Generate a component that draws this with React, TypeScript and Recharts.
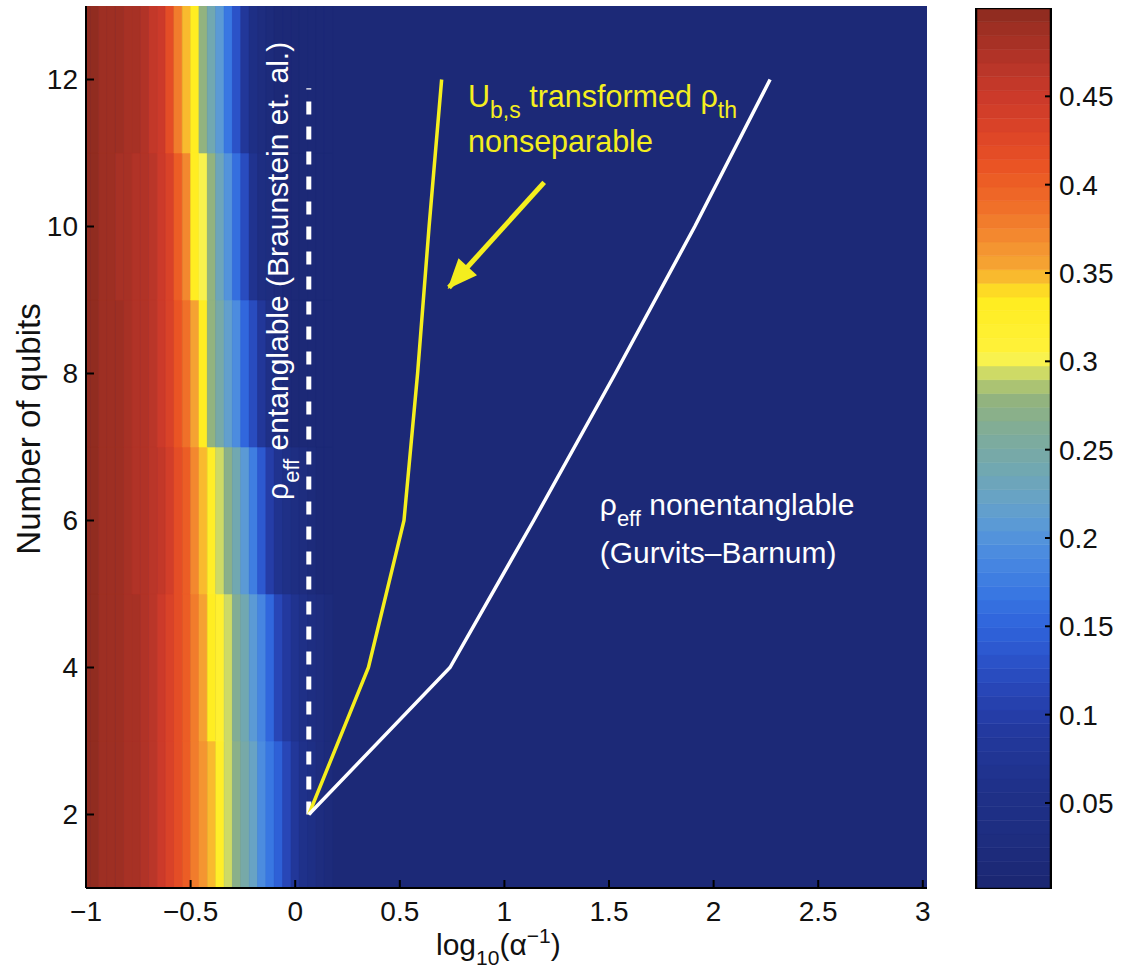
import React from 'react';
import { ComposedChart, XAxis, YAxis, Line, ReferenceArea, ReferenceDot } from 'recharts';

const FONT = '"Liberation Sans", Arial, Helvetica, sans-serif';
const YELLOW = '#f4ee1e';

// heat map: cell centres along log10(1/alpha), one band per qubit count
const COL_X = [
  -1, -0.96, -0.92, -0.88, -0.84, -0.8, -0.76, -0.72, -0.68, -0.64,
  -0.6, -0.56, -0.52, -0.48, -0.44, -0.4, -0.36, -0.32, -0.28, -0.24,
  -0.2, -0.16, -0.12, -0.08, -0.04, 0, 0.04, 0.08, 0.12, 0.16,
];
const CELL_HALF = 0.02;
const QUBITS = [2, 4, 6, 8, 10, 12];

const BAND_2 = [0.496, 0.494, 0.492, 0.489, 0.486, 0.482, 0.477, 0.471, 0.463, 0.447, 0.432, 0.416, 0.401, 0.38, 0.362, 0.346, 0.322, 0.297, 0.273, 0.248, 0.222, 0.196, 0.17, 0.142, 0.112, 0.082, 0.058, 0.042, 0.032, 0.024];
const BAND_4 = [0.496, 0.494, 0.492, 0.489, 0.486, 0.482, 0.477, 0.471, 0.463, 0.45, 0.435, 0.417, 0.402, 0.378, 0.357, 0.336, 0.316, 0.291, 0.266, 0.236, 0.207, 0.181, 0.152, 0.118, 0.09, 0.068, 0.05, 0.04, 0.03, 0.02];
const BAND_6 = [0.496, 0.494, 0.491, 0.488, 0.485, 0.481, 0.476, 0.47, 0.468, 0.455, 0.44, 0.42, 0.4, 0.375, 0.35, 0.325, 0.296, 0.27, 0.24, 0.205, 0.175, 0.14, 0.1, 0.07, 0.05, 0.035, 0.025, 0.018, 0.014, 0.012];
const BAND_8 = [0.496, 0.494, 0.491, 0.488, 0.485, 0.48, 0.475, 0.47, 0.465, 0.45, 0.43, 0.41, 0.39, 0.355, 0.33, 0.28, 0.25, 0.215, 0.19, 0.155, 0.12, 0.08, 0.05, 0.03, 0.02, 0.015, 0.012, 0.011, 0.01, 0.01];
const BAND_10 = [0.496, 0.494, 0.491, 0.488, 0.484, 0.48, 0.475, 0.47, 0.462, 0.45, 0.43, 0.4, 0.37, 0.335, 0.305, 0.275, 0.235, 0.2, 0.16, 0.12, 0.07, 0.04, 0.025, 0.018, 0.014, 0.012, 0.011, 0.01, 0.01, 0.01];
const BAND_12 = [0.496, 0.494, 0.492, 0.49, 0.487, 0.483, 0.478, 0.472, 0.46, 0.45, 0.42, 0.38, 0.35, 0.33, 0.28, 0.24, 0.205, 0.17, 0.13, 0.08, 0.045, 0.025, 0.018, 0.014, 0.012, 0.011, 0.01, 0.01, 0.01, 0.01];
const BANDS = [BAND_2, BAND_4, BAND_6, BAND_8, BAND_10, BAND_12];
const BACKGROUND_VALUE = 0.01;

// boundary curves
const NONSEP_X = [0.065, 0.35, 0.52, 0.585, 0.64, 0.7];
const NONSEP_N = [2, 4, 6, 8, 10, 12];
const GB_X = [0.065, 0.74, 1.14, 1.53, 1.91, 2.27];
const GB_N = [2, 4, 6, 8, 10, 12];
const BRAUNSTEIN_X = [0.065, 0.065];
const BRAUNSTEIN_N = [2, 11.88];
const ARROW_X = [1.19, 0.735];
const ARROW_N = [10.6, 9.17];

const X_TICKS = [-1, -0.5, 0, 0.5, 1, 1.5, 2, 2.5, 3];
const Y_TICKS = [2, 4, 6, 8, 10, 12];
const CBAR_TICKS = [0.05, 0.1, 0.15, 0.2, 0.25, 0.3, 0.35, 0.4, 0.45];
const CBAR_MIN = 0.0013;
const CBAR_MAX = 0.5;
const CBAR_LEVELS = 64;

// colormap stops (value -> colour)
const CMAP_V = [0, 0.03, 0.06, 0.09, 0.11, 0.13, 0.15, 0.17, 0.19, 0.205, 0.22, 0.24, 0.26, 0.28, 0.292, 0.299, 0.306, 0.335, 0.343, 0.352, 0.37, 0.39, 0.41, 0.43, 0.45, 0.47, 0.49, 0.5];
const CMAP_C = ['#1a2670', '#1e2d80', '#1f318a', '#23399e', '#2743b2', '#2b52c8', '#2f64dc', '#3a78e2', '#4a8ae0', '#5898d8', '#66a2c8', '#72a8b0', '#80ac98', '#94b47c', '#c4d46a', '#f4f258', '#fff23a', '#ffec20', '#fcd028', '#f6a832', '#f38a30', '#ef6c28', '#ea5424', '#dc4428', '#cb3a2a', '#b43428', '#9c2e22', '#8a2a1e'];

const hex = (c: string) => [1, 3, 5].map((i) => parseInt(c.slice(i, i + 2), 16));

const interp = (v: number) => {
  if (v <= CMAP_V[0]) return CMAP_C[0];
  for (let i = 1; i < CMAP_V.length; i++) {
    if (v <= CMAP_V[i]) {
      const t = (v - CMAP_V[i - 1]) / (CMAP_V[i] - CMAP_V[i - 1]);
      const a = hex(CMAP_C[i - 1]);
      const b = hex(CMAP_C[i]);
      const m = a.map((ch, j) => Math.round(ch + (b[j] - ch) * t));
      return `rgb(${m[0]},${m[1]},${m[2]})`;
    }
  }
  return CMAP_C[CMAP_C.length - 1];
};

// quantised like a 64-entry colormap
const colorOf = (v: number) => {
  const step = (CBAR_MAX - CBAR_MIN) / CBAR_LEVELS;
  const idx = Math.min(CBAR_LEVELS - 1, Math.max(0, Math.floor((v - CBAR_MIN) / step)));
  return interp(CBAR_MIN + (idx + 0.5) * step);
};

const fmt = (v: number) => (v < 0 ? `\u2212${Math.abs(v)}` : `${v}`);

const toRows = (xs: number[], ns: number[]) => xs.map((x, i) => ({ x, n: ns[i] }));

const axisStroke = { stroke: '#000', strokeWidth: 2 };
const tickFont = { fontSize: 28, fill: '#111', fontFamily: FONT };

const YellowNote = ({ cx, cy }: any) => (
  <g fontFamily={FONT} fill={YELLOW}>
    <text x={cx} y={cy} fontSize={30.5}>
      <tspan>U</tspan>
      <tspan fontSize={23} dy={11}>b,s</tspan>
      <tspan dy={-11}> transformed ρ</tspan>
      <tspan fontSize={23} dy={11}>th</tspan>
    </text>
    <text x={cx} y={cy + 45} fontSize={30.5}>nonseparable</text>
  </g>
);

const WhiteNote = ({ cx, cy }: any) => (
  <g fontFamily={FONT} fill="#fff">
    <text x={cx} y={cy} fontSize={30}>
      <tspan>ρ</tspan>
      <tspan fontSize={22} dy={11}>eff</tspan>
      <tspan dy={-11}> nonentanglable</tspan>
    </text>
    <text x={cx} y={cy + 48} fontSize={30}>(Gurvits–Barnum)</text>
  </g>
);

const RotatedNote = ({ cx, cy }: any) => (
  <text transform={`translate(${cx},${cy}) rotate(-90)`} fontFamily={FONT} fill="#fff" fontSize={30}>
    <tspan>ρ</tspan>
    <tspan fontSize={22} dy={11}>eff</tspan>
    <tspan dy={-11}> entanglable (Braunstein et. al.)</tspan>
  </text>
);

export default function App() {
  const nonsep = toRows(NONSEP_X, NONSEP_N);
  const gb = toRows(GB_X, GB_N);
  const braunstein = toRows(BRAUNSTEIN_X, BRAUNSTEIN_N);
  const arrow = toRows(ARROW_X, ARROW_N);

  let tail = { x: 0, y: 0 };
  const arrowHead = (p: any) => {
    if (p.index === 0) {
      tail = { x: p.cx, y: p.cy };
      return <g key="ah0" />;
    }
    const dx = p.cx - tail.x;
    const dy = p.cy - tail.y;
    const len = Math.hypot(dx, dy) || 1;
    const ux = dx / len;
    const uy = dy / len;
    const L = 28;
    const W = 12.5;
    const bx = p.cx - ux * L;
    const by = p.cy - uy * L;
    const pts = `${p.cx + ux * 2},${p.cy + uy * 2} ${bx - uy * W},${by + ux * W} ${bx + uy * W},${by - ux * W}`;
    return <polygon key="ah1" points={pts} fill={YELLOW} />;
  };

  const cbarStep = (CBAR_MAX - CBAR_MIN) / CBAR_LEVELS;
  const cbarCells = Array.from({ length: CBAR_LEVELS }, (_, i) => CBAR_MIN + i * cbarStep);
  // two rows so the colour-bar chart has its axes resolved
  const cbarFrame = [
    { u: 0, v: CBAR_MIN },
    { u: 1, v: CBAR_MAX },
  ];

  return (
    <div style={{ position: 'absolute', left: 0, top: 0, width: 1132, height: 968, background: '#fff' }}>
      <div style={{ position: 'absolute', left: 0, top: 0 }}>
        <ComposedChart width={1132} height={968} margin={{ top: 6, right: 205, bottom: 0, left: 0 }}>
          <XAxis
            type="number"
            dataKey="x"
            domain={[-1, 3.02]}
            ticks={X_TICKS}
            tickFormatter={fmt}
            allowDataOverflow
            height={80}
            tickSize={-8}
            tickMargin={21}
            axisLine={axisStroke}
            tickLine={axisStroke}
            tick={tickFont}
            label={(p: any) => (
              <text x={p.viewBox.x + 350} y={p.viewBox.y + 67} fontFamily={FONT} fontSize={30} fill="#111">
                <tspan>log</tspan>
                <tspan fontSize={21} dy={10}>10</tspan>
                <tspan dy={-10}>(α</tspan>
                <tspan fontSize={21} dy={-12}>−1</tspan>
                <tspan dy={12}>)</tspan>
              </text>
            )}
          />
          <XAxis
            xAxisId="top"
            orientation="top"
            type="number"
            domain={[-1, 3.02]}
            ticks={X_TICKS}
            allowDataOverflow
            height={0}
            tick={false}
            tickSize={-8}
            axisLine={axisStroke}
            tickLine={axisStroke}
          />
          <YAxis
            type="number"
            domain={[1, 13]}
            ticks={Y_TICKS}
            allowDataOverflow
            width={86}
            tickSize={-8}
            tickMargin={16}
            axisLine={axisStroke}
            tickLine={axisStroke}
            tick={tickFont}
            label={(p: any) => (
              <text
                transform={`translate(${p.viewBox.x + 40},${p.viewBox.y + p.viewBox.height / 2 - 18}) rotate(-90)`}
                textAnchor="middle"
                fontFamily={FONT}
                fontSize={33}
                fill="#111"
              >
                Number of qubits
              </text>
            )}
          />
          <YAxis
            yAxisId="right"
            orientation="right"
            type="number"
            domain={[1, 13]}
            ticks={Y_TICKS}
            allowDataOverflow
            width={0}
            tick={false}
            tickSize={-8}
            axisLine={axisStroke}
            tickLine={axisStroke}
          />

          <ReferenceArea
            x1={-1}
            x2={3.02}
            y1={1}
            y2={13}
            fill={colorOf(BACKGROUND_VALUE)}
            fillOpacity={1}
            ifOverflow="hidden"
          />
          {QUBITS.map((n, r) =>
            BANDS[r].map((v, k) => (
              <ReferenceArea
                key={`c${r}-${k}`}
                x1={COL_X[k] - CELL_HALF}
                x2={COL_X[k] + CELL_HALF}
                y1={n - 1}
                y2={n + 1}
                fill={colorOf(v)}
                fillOpacity={1}
                stroke={colorOf(v)}
                strokeWidth={0.6}
                ifOverflow="hidden"
              />
            ))
          )}

          <Line data={braunstein} dataKey="n" type="linear" stroke="#fff" strokeWidth={5} strokeDasharray="13 12" dot={false} activeDot={false} isAnimationActive={false} />
          <Line data={nonsep} dataKey="n" type="linear" stroke={YELLOW} strokeWidth={3.5} dot={false} activeDot={false} isAnimationActive={false} />
          <Line data={gb} dataKey="n" type="linear" stroke="#fff" strokeWidth={3.5} dot={false} activeDot={false} isAnimationActive={false} />
          <Line data={arrow} dataKey="n" type="linear" stroke={YELLOW} strokeWidth={5} dot={arrowHead} activeDot={false} isAnimationActive={false} />

          <ReferenceDot x={0.826} y={11.63} r={0} fill="none" stroke="none" shape={(p: any) => <YellowNote cx={p.cx} cy={p.cy} />} />
          <ReferenceDot x={1.456} y={6.075} r={0} fill="none" stroke="none" shape={(p: any) => <WhiteNote cx={p.cx} cy={p.cy} />} />
          <ReferenceDot x={-0.035} y={6.28} r={0} fill="none" stroke="none" shape={(p: any) => <RotatedNote cx={p.cx} cy={p.cy} />} />
        </ComposedChart>
      </div>

      <div style={{ position: 'absolute', left: 940, top: 0 }}>
        <ComposedChart data={cbarFrame} width={192} height={968} margin={{ top: 8, right: 0, bottom: 79, left: 35 }}>
          <XAxis dataKey="u" type="number" domain={[0, 1]} allowDataOverflow hide />
          <YAxis
            yAxisId="l"
            orientation="left"
            type="number"
            domain={[CBAR_MIN, CBAR_MAX]}
            ticks={CBAR_TICKS}
            allowDataOverflow
            width={1}
            tick={false}
            tickSize={-6}
            axisLine={axisStroke}
            tickLine={axisStroke}
          />
          <YAxis
            yAxisId="r"
            orientation="right"
            type="number"
            domain={[CBAR_MIN, CBAR_MAX]}
            ticks={CBAR_TICKS}
            allowDataOverflow
            width={81}
            tickSize={-6}
            tickMargin={14}
            axisLine={axisStroke}
            tickLine={axisStroke}
            tick={tickFont}
          />
          <Line yAxisId="r" dataKey="v" stroke="none" dot={false} activeDot={false} isAnimationActive={false} />
          {cbarCells.map((lo, i) => (
            <ReferenceArea
              key={`cb${i}`}
              yAxisId="r"
              x1={0}
              x2={1}
              y1={lo}
              y2={lo + cbarStep}
              fill={colorOf(lo + cbarStep / 2)}
              fillOpacity={1}
              stroke={colorOf(lo + cbarStep / 2)}
              strokeWidth={0.6}
              ifOverflow="hidden"
            />
          ))}
          <ReferenceArea yAxisId="r" x1={0} x2={1} y1={CBAR_MIN} y2={CBAR_MAX} fill="none" stroke="#000" strokeWidth={2.5} ifOverflow="hidden" />
        </ComposedChart>
      </div>
    </div>
  );
}
